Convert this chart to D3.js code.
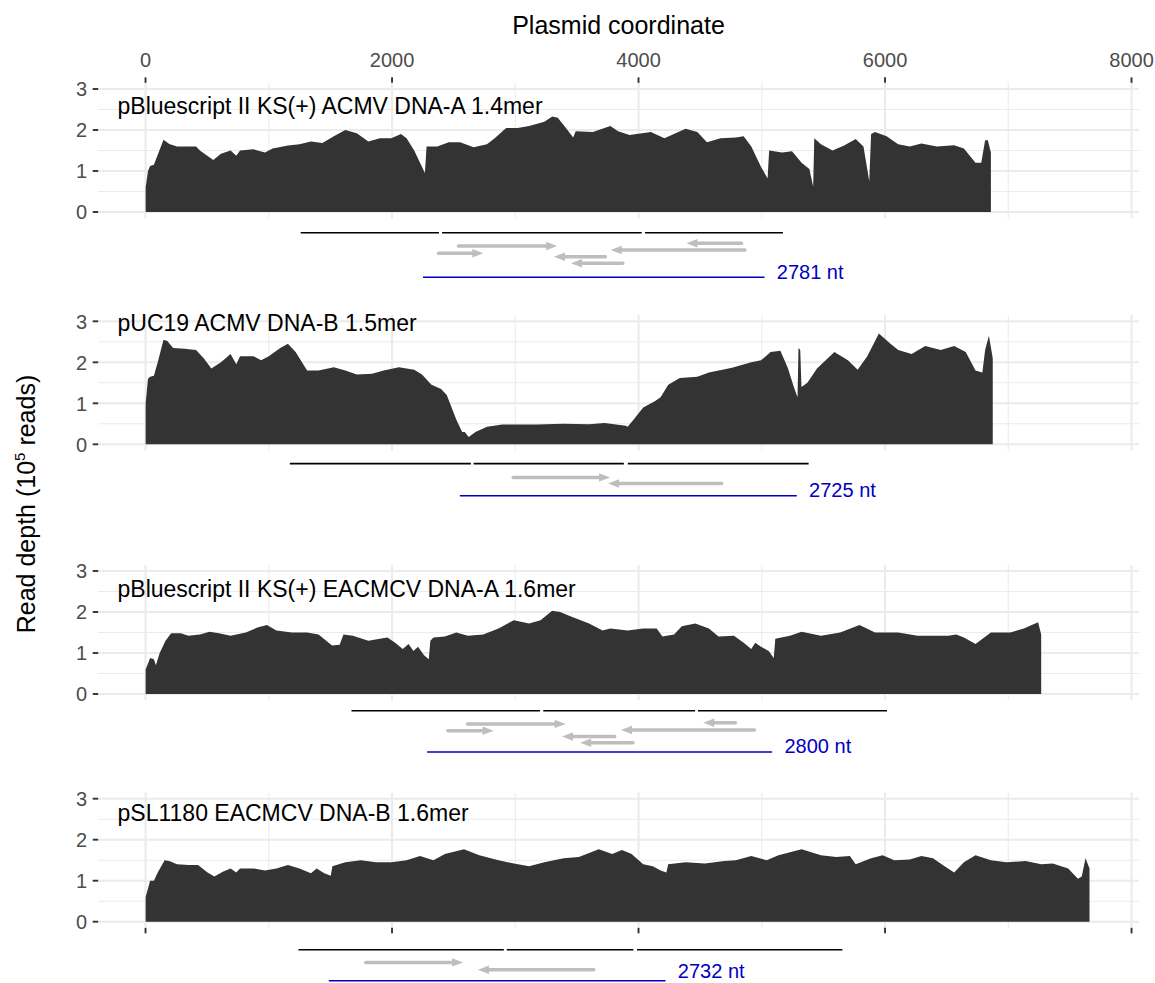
<!DOCTYPE html>
<html>
<head>
<meta charset="utf-8">
<script src="https://cdn.jsdelivr.net/npm/d3@7/dist/d3.min.js"></script>
<style>
    body { margin: 0; background: #fff; }
    svg text { font-family: "Liberation Sans", Arial, Helvetica, sans-serif; }
</style>
</head>
<body>
<div id="chart-area"></div>
<script>
// ---- Data (plasmid coordinate, read depth in 1e5 reads) ----
var panelNames = [
    "pBluescript II KS(+) ACMV DNA-A 1.4mer",
    "pUC19 ACMV DNA-B 1.5mer",
    "pBluescript II KS(+) EACMCV DNA-A 1.6mer",
    "pSL1180 EACMCV DNA-B 1.6mer"
];

var depthAcmvA = [[1,0.6],[20,1.0],[37,1.12],[68,1.15],[100,1.4],[146,1.76],[193,1.66],[255,1.6],[410,1.6],[441,1.5],[550,1.27],[612,1.42],[690,1.5],[736,1.37],[767,1.5],[876,1.53],[969,1.45],[1031,1.55],[1155,1.62],[1249,1.65],[1342,1.72],[1435,1.68],[1528,1.85],[1621,2.0],[1714,1.92],[1808,1.72],[1901,1.8],[1994,1.8],[2072,1.9],[2118,1.8],[2180,1.5],[2227,1.2],[2267,0.95],[2280,1.6],[2367,1.6],[2460,1.7],[2553,1.7],[2662,1.58],[2770,1.65],[2833,1.8],[2926,2.05],[3019,2.05],[3112,2.1],[3236,2.2],[3300,2.33],[3345,2.3],[3411,2.05],[3470,1.82],[3490,1.97],[3630,1.95],[3771,2.1],[3834,1.97],[3928,1.88],[4100,1.95],[4210,1.8],[4382,2.03],[4477,1.95],[4555,1.7],[4665,1.8],[4790,1.82],[4853,1.85],[4915,1.6],[4994,1.1],[5047,0.82],[5060,1.5],[5166,1.45],[5245,1.48],[5323,1.2],[5386,1.05],[5417,0.62],[5426,1.8],[5480,1.65],[5574,1.5],[5668,1.62],[5762,1.78],[5825,1.6],[5872,0.75],[5887,1.9],[5919,1.95],[6013,1.85],[6107,1.65],[6201,1.6],[6295,1.67],[6420,1.6],[6561,1.63],[6640,1.55],[6734,1.2],[6781,1.2],[6812,1.75],[6834,1.75],[6859,1.45]];

var depthAcmvB = [[1,1.0],[20,1.6],[37,1.65],[68,1.67],[99,2.0],[146,2.55],[177,2.52],[224,2.35],[317,2.33],[410,2.3],[472,2.1],[534,1.85],[612,2.0],[690,2.2],[736,1.95],[767,2.15],[876,2.15],[938,2.05],[1000,2.15],[1093,2.35],[1155,2.45],[1218,2.25],[1311,1.8],[1404,1.8],[1528,1.88],[1621,1.8],[1714,1.7],[1839,1.72],[1932,1.8],[2056,1.88],[2180,1.82],[2243,1.7],[2320,1.45],[2398,1.35],[2444,1.2],[2522,0.6],[2569,0.3],[2590,0.3],[2622,0.18],[2677,0.3],[2771,0.43],[2895,0.48],[3174,0.48],[3392,0.5],[3599,0.49],[3724,0.52],[3897,0.45],[3912,0.43],[3959,0.6],[4038,0.9],[4132,1.05],[4179,1.15],[4241,1.45],[4335,1.62],[4477,1.65],[4571,1.75],[4759,1.87],[4915,2.0],[4994,2.05],[5072,2.25],[5151,2.28],[5213,1.85],[5260,1.4],[5290,1.15],[5298,2.35],[5312,2.3],[5322,1.4],[5370,1.5],[5448,1.85],[5589,2.25],[5699,2.05],[5778,1.82],[5856,2.15],[5950,2.7],[6044,2.45],[6107,2.3],[6216,2.2],[6326,2.4],[6452,2.3],[6561,2.4],[6655,2.25],[6734,1.8],[6790,1.75],[6812,2.3],[6843,2.65],[6874,2.1]];

var depthEacmcvA = [[1,0.6],[37,0.88],[68,0.85],[84,0.7],[115,1.0],[162,1.3],[208,1.48],[286,1.48],[348,1.42],[441,1.45],[519,1.52],[596,1.48],[690,1.42],[814,1.5],[907,1.62],[985,1.68],[1062,1.55],[1187,1.5],[1311,1.5],[1404,1.45],[1466,1.3],[1513,1.18],[1575,1.2],[1606,1.45],[1683,1.42],[1808,1.3],[1901,1.35],[1963,1.38],[2025,1.25],[2087,1.1],[2134,1.22],[2174,1.05],[2211,1.15],[2258,0.95],[2298,0.85],[2311,1.3],[2336,1.38],[2429,1.4],[2522,1.5],[2615,1.42],[2740,1.45],[2864,1.6],[2988,1.8],[3112,1.72],[3205,1.8],[3299,2.03],[3364,2.0],[3442,1.9],[3599,1.72],[3708,1.55],[3771,1.6],[3912,1.55],[4038,1.6],[4147,1.6],[4194,1.4],[4288,1.45],[4351,1.65],[4461,1.72],[4571,1.6],[4649,1.4],[4774,1.42],[4853,1.25],[4915,1.1],[4947,1.25],[4994,1.15],[5056,1.05],[5097,0.88],[5110,1.35],[5229,1.42],[5323,1.52],[5480,1.42],[5636,1.5],[5793,1.68],[5919,1.5],[6107,1.5],[6264,1.42],[6420,1.42],[6514,1.42],[6577,1.45],[6640,1.38],[6734,1.22],[6859,1.5],[7016,1.5],[7126,1.6],[7242,1.75],[7267,1.45]];

var depthEacmcvB = [[1,0.6],[37,1.0],[68,1.0],[99,1.2],[155,1.5],[193,1.48],[255,1.4],[348,1.38],[426,1.38],[503,1.2],[559,1.1],[627,1.22],[690,1.3],[736,1.2],[767,1.3],[876,1.3],[969,1.25],[1062,1.3],[1155,1.38],[1249,1.3],[1342,1.18],[1388,1.3],[1451,1.18],[1503,1.12],[1516,1.35],[1621,1.45],[1746,1.5],[1870,1.45],[1994,1.45],[2118,1.5],[2227,1.6],[2336,1.5],[2429,1.65],[2584,1.77],[2708,1.62],[2864,1.5],[2988,1.42],[3112,1.35],[3236,1.45],[3392,1.55],[3516,1.58],[3677,1.77],[3787,1.65],[3865,1.75],[3944,1.65],[4038,1.4],[4116,1.35],[4179,1.25],[4226,1.2],[4241,1.4],[4382,1.45],[4539,1.42],[4696,1.48],[4790,1.5],[4915,1.6],[5041,1.5],[5135,1.62],[5323,1.77],[5480,1.62],[5605,1.58],[5715,1.6],[5762,1.4],[5887,1.55],[5981,1.62],[6075,1.5],[6201,1.52],[6295,1.6],[6389,1.55],[6483,1.35],[6561,1.2],[6640,1.45],[6734,1.62],[6859,1.5],[6984,1.45],[7141,1.48],[7267,1.4],[7361,1.42],[7486,1.3],[7565,1.05],[7596,1.1],[7627,1.55],[7659,1.3]];

// genome unit pieces (black), ORFs [start, end, lane] (grey arrows), unit length (blue)
var segsAcmvA = [[1259,2381],[2406,4025],[4053,5172]];
var orfsAcmvA = [[2377,2740,4.62],[2539,3340,2.98],[4835,4388,2.38],[4863,3774,3.88],[3731,3313,5.38],[3871,3452,6.86]];
var unitAcmvA = [2251, 5022];

var segsAcmvB = [[1171,2640],[2662,3881],[3913,5380]];
var orfsAcmvB = [[2983,3769,4.3],[4674,3753,6.2]];
var unitAcmvB = [2550, 5284];

var segsEacmcvA = [[1671,3201],[3227,4459],[4482,6016]];
var orfsEacmcvA = [[2613,3409,3.2],[2453,2824,4.84],[4786,4525,2.9],[4940,3858,4.67],[3806,3379,6.25],[3955,3526,7.75]];
var unitEacmcvA = [2285, 5084];

var segsEacmcvB = [[1241,2907],[2931,3958],[3988,5654]];
var orfsEacmcvB = [[1787,2577,4.1],[3637,2697,6.45]];
var unitEacmcvB = [1487, 4219];

var unitLabels = ["2781 nt", "2725 nt", "2800 nt", "2732 nt"];
var labelDepth = [2.39, 2.77, 2.37, 2.46];

var xTicks = [0, 2000, 4000, 6000, 8000];
var xMinor = [1000, 3000, 5000, 7000];
var yTicks = [0, 1, 2, 3];
var yMinor = [0.5, 1.5, 2.5];

// ---- Layout ----
var width = 1155, height = 983;
var pxPerUnit = 41;
var panels = [
    { depth: depthAcmvA, segs: segsAcmvA, orfs: orfsAcmvA, unit: unitAcmvA, zero: 212, blackOff: 20.7, blueOff: 65.3, textDy: 1.2 },
    { depth: depthAcmvB, segs: segsAcmvB, orfs: orfsAcmvB, unit: unitAcmvB, zero: 444.3, blackOff: 19.3, blueOff: 51.4, textDy: 1.2 },
    { depth: depthEacmcvA, segs: segsEacmcvA, orfs: orfsEacmcvA, unit: unitEacmcvA, zero: 694, blackOff: 16.7, blueOff: 58, textDy: 1.2 },
    { depth: depthEacmcvB, segs: segsEacmcvB, orfs: orfsEacmcvB, unit: unitEacmcvB, zero: 921.7, blackOff: 28, blueOff: 59, textDy: -2.5 }
];

var svg = d3.select("#chart-area")
    .append("svg")
    .attr("width", width)
    .attr("height", height);

var x = d3.scaleLinear().domain([-384, 8059]).range([98.2, 1138.8]);
var left = x.range()[0], right = x.range()[1];

var gridCol = "#ebebeb", textCol = "#4d4d4d", tickCol = "#333333";
var blue = "#0000c4", orfCol = "#bebebe";

// Title
svg.append("text")
    .attr("x", (left + right) / 2)
    .attr("y", 33.5)
    .attr("text-anchor", "middle")
    .attr("font-size", "25px")
    .attr("fill", "#000")
    .text("Plasmid coordinate");

// Y axis title
var yTitle = svg.append("text")
    .attr("transform", "translate(35,504) rotate(-90)")
    .attr("text-anchor", "middle")
    .attr("font-size", "25px")
    .attr("fill", "#000");
yTitle.append("tspan").text("Read depth (10");
yTitle.append("tspan").attr("font-size", "15px").attr("dy", "-10").text("5");
yTitle.append("tspan").attr("dy", "10").text(" reads)");

panels.forEach(function(p, i) {
    var y = d3.scaleLinear().domain([-0.15, 3.15])
        .range([p.zero + 0.15 * pxPerUnit, p.zero - 3.15 * pxPerUnit]);
    var top = y(3.15), bottom = y(-0.15);
    var g = svg.append("g").attr("class", "panel");

    // Grid
    g.selectAll(".ymin").data(yMinor).enter().append("line")
        .attr("x1", left).attr("x2", right)
        .attr("y1", function(d) { return y(d); }).attr("y2", function(d) { return y(d); })
        .attr("stroke", gridCol).attr("stroke-width", 1.05);
    g.selectAll(".xmin").data(xMinor).enter().append("line")
        .attr("y1", top).attr("y2", bottom)
        .attr("x1", function(d) { return x(d); }).attr("x2", function(d) { return x(d); })
        .attr("stroke", gridCol).attr("stroke-width", 1.05);
    g.selectAll(".ymaj").data(yTicks).enter().append("line")
        .attr("x1", left).attr("x2", right)
        .attr("y1", function(d) { return y(d); }).attr("y2", function(d) { return y(d); })
        .attr("stroke", gridCol).attr("stroke-width", 2.1);
    g.selectAll(".xmaj").data(xTicks).enter().append("line")
        .attr("y1", top).attr("y2", bottom)
        .attr("x1", function(d) { return x(d); }).attr("x2", function(d) { return x(d); })
        .attr("stroke", gridCol).attr("stroke-width", 2.1);

    // Coverage area
    var area = d3.area()
        .x(function(d) { return x(d[0]); })
        .y0(y(0))
        .y1(function(d) { return y(d[1]); });
    g.append("path")
        .datum(p.depth)
        .attr("d", area)
        .attr("fill", "#333333");

    // Y axis ticks + labels
    g.selectAll(".ytick").data(yTicks).enter().append("line")
        .attr("x1", left - 5.5).attr("x2", left)
        .attr("y1", function(d) { return y(d); }).attr("y2", function(d) { return y(d); })
        .attr("stroke", tickCol).attr("stroke-width", 1.9);
    g.selectAll(".ylab").data(yTicks).enter().append("text")
        .attr("x", left - 11)
        .attr("y", function(d) { return y(d) + 7.2; })
        .attr("text-anchor", "end")
        .attr("font-size", "20px")
        .attr("fill", textCol)
        .text(function(d) { return d; });

    // X ticks: top of first panel, bottom of last panel
    if (i === 0) {
        g.selectAll(".xtick").data(xTicks).enter().append("line")
            .attr("y1", top - 5.5).attr("y2", top)
            .attr("x1", function(d) { return x(d); }).attr("x2", function(d) { return x(d); })
            .attr("stroke", tickCol).attr("stroke-width", 1.9);
        g.selectAll(".xlab").data(xTicks).enter().append("text")
            .attr("x", function(d) { return x(d); })
            .attr("y", 66.7)
            .attr("text-anchor", "middle")
            .attr("font-size", "20px")
            .attr("fill", textCol)
            .text(function(d) { return d; });
    }
    if (i === panels.length - 1) {
        g.selectAll(".xtick").data(xTicks).enter().append("line")
            .attr("y1", bottom).attr("y2", bottom + 5.5)
            .attr("x1", function(d) { return x(d); }).attr("x2", function(d) { return x(d); })
            .attr("stroke", tickCol).attr("stroke-width", 1.9);
    }

    // Panel label
    g.append("text")
        .attr("x", x(-227))
        .attr("y", y(labelDepth[i]))
        .attr("font-size", "23px")
        .attr("fill", "#000")
        .text(panelNames[i]);

    // Annotation track under the panel
    var lane = d3.scaleLinear().domain([0, 10])
        .range([p.zero + p.blackOff, p.zero + p.blueOff]);

    g.selectAll(".seg").data(p.segs).enter().append("line")
        .attr("x1", function(d) { return x(d[0]); })
        .attr("x2", function(d) { return x(d[1]); })
        .attr("y1", lane(0)).attr("y2", lane(0))
        .attr("stroke", "#000").attr("stroke-width", 1.6);

    var headLen = 11, headHalf = 4.2;
    g.selectAll(".orf").data(p.orfs).enter().append("line")
        .attr("x1", function(d) { return x(d[0]); })
        .attr("x2", function(d) { var dir = d[1] > d[0] ? 1 : -1; return x(d[1]) - dir * headLen * 0.6; })
        .attr("y1", function(d) { return lane(d[2]); })
        .attr("y2", function(d) { return lane(d[2]); })
        .attr("stroke", orfCol).attr("stroke-width", 3.5)
        .attr("stroke-linecap", "round");
    g.selectAll(".head").data(p.orfs).enter().append("path")
        .attr("d", function(d) {
            var dir = d[1] > d[0] ? 1 : -1, tx = x(d[1]), ty = lane(d[2]);
            return "M" + tx + "," + ty + "L" + (tx - dir * headLen) + "," + (ty - headHalf) +
                "L" + (tx - dir * headLen) + "," + (ty + headHalf) + "Z";
        })
        .attr("fill", orfCol);

    g.append("line")
        .attr("x1", x(p.unit[0])).attr("x2", x(p.unit[1]))
        .attr("y1", lane(10)).attr("y2", lane(10))
        .attr("stroke", blue).attr("stroke-width", 1.4);
    g.append("text")
        .attr("x", x(p.unit[1] + 100))
        .attr("y", lane(10) + p.textDy)
        .attr("font-size", "20px")
        .attr("fill", blue)
        .text(unitLabels[i]);
});
</script>
</body>
</html>
